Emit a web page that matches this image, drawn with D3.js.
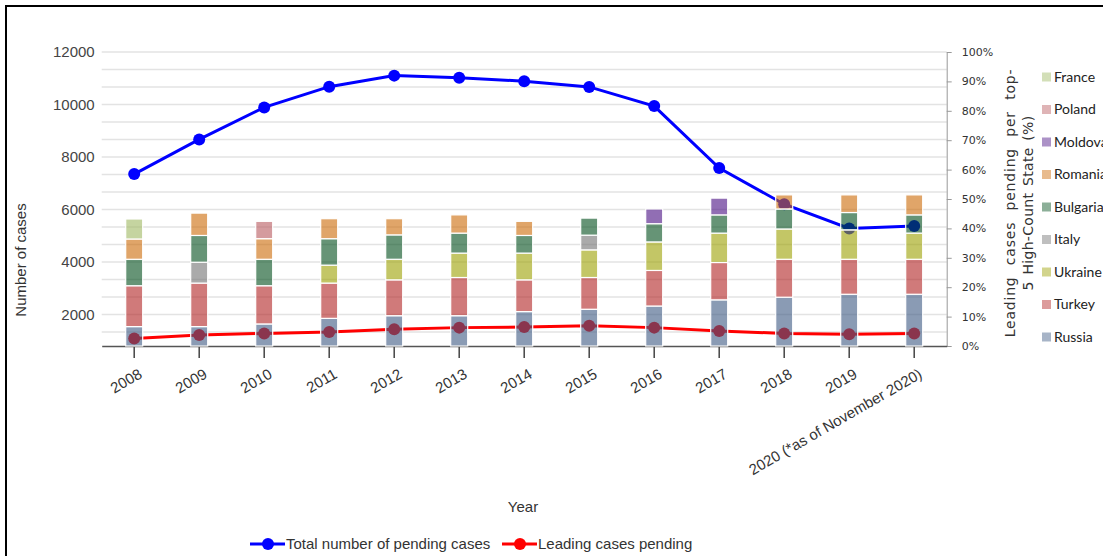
<!DOCTYPE html>
<html>
<head>
<meta charset="utf-8">
<script src="https://cdn.jsdelivr.net/npm/d3@7"></script>
<style>
  html, body { margin: 0; padding: 0; background: #fff; }
  svg { display: block; }
</style>
</head>
<body>
<div id="chart"></div>
<script>
// Years on the category axis
const years = ["2008", "2009", "2010", "2011", "2012", "2013", "2014", "2015", "2016", "2017", "2018", "2019", "2020"];
const yearLabels = ["2008", "2009", "2010", "2011", "2012", "2013", "2014", "2015", "2016", "2017", "2018", "2019", "2020 (*as of November 2020)"];

// Share of leading cases pending per top-5 high-count state (%), bottom to top of each stack
const russia   = [6.6, 6.6, 7.5, 9.4, 10.3, 10.3, 11.7, 12.5, 13.6, 15.7, 16.6, 17.6, 17.6];
const turkey   = [13.9, 14.8, 13.0, 12.0, 12.2, 13.0, 10.8, 10.8, 12.1, 12.7, 12.9, 11.9, 11.9];
const ukraine  = [0, 0, 0, 6.1, 7.0, 8.3, 9.1, 9.4, 9.7, 10.0, 10.3, 10.0, 8.9];
const italy    = [0, 7.1, 0, 0, 0, 0, 0, 5.0, 0, 0, 0, 0, 0];
const bulgaria = [9.0, 9.1, 9.0, 9.0, 8.3, 6.8, 6.0, 5.8, 6.2, 6.2, 6.8, 5.9, 6.2];
const romania  = [6.9, 7.6, 7.0, 6.8, 5.5, 6.2, 4.8, 0, 0, 0, 4.8, 6.0, 6.8];
const moldova  = [0, 0, 0, 0, 0, 0, 0, 0, 5.0, 5.7, 0, 0, 0];
const poland   = [0, 0, 5.9, 0, 0, 0, 0, 0, 0, 0, 0, 0, 0];
const france   = [6.8, 0, 0, 0, 0, 0, 0, 0, 0, 0, 0, 0, 0];

const countries = ["Russia", "Turkey", "Ukraine", "Italy", "Bulgaria", "Romania", "Moldova", "Poland", "France"];
const countrySeries = [russia, turkey, ukraine, italy, bulgaria, romania, moldova, poland, france];
const countryColors = ["#3c5882", "#b12121", "#9ba000", "#717171", "#004d1b", "#cb6905", "#480d82", "#b7585d", "#9eb761"];

// Totals on the left axis
const totalPending   = [7350, 8670, 9890, 10680, 11100, 11020, 10890, 10670, 9940, 7580, 6200, 5280, 5370];
const leadingPending = [1090, 1220, 1280, 1330, 1440, 1500, 1520, 1570, 1500, 1370, 1280, 1250, 1280];

const leftTicks = [2000, 4000, 6000, 8000, 10000, 12000];
const rightTicks = [0, 10, 20, 30, 40, 50, 60, 70, 80, 90, 100];

const W = 1103, H = 556;
const plot = { left: 101.7, right: 946.7, top: 52, bottom: 346 };

const svg = d3.select("#chart").append("svg").attr("width", W).attr("height", H);

// frame
svg.append("rect").attr("x", 6).attr("y", 6).attr("width", 1300).attr("height", 800)
  .attr("fill", "none").attr("stroke", "#000").attr("stroke-width", 2);

const x = d3.scaleBand().domain(years).range([plot.left, plot.right]).padding(0);
const yL = d3.scaleLinear().domain([800, 12000]).range([plot.bottom, plot.top]);
const yR = d3.scaleLinear().domain([0, 100]).range([plot.bottom, plot.top]);
const cx = d => x(d) + x.bandwidth() / 2;

// gridlines every third of 2000
const gridVals = d3.range(12000, 800, -2000 / 3);
svg.append("g").selectAll("line").data(gridVals).join("line")
  .attr("x1", plot.left).attr("x2", plot.right)
  .attr("y1", d => yL(d)).attr("y2", d => yL(d))
  .attr("stroke", "#e3e3e3").attr("stroke-width", 1.5);

// left axis (labels only)
const gL = svg.append("g").attr("transform", `translate(${plot.left - 7},0)`)
  .call(d3.axisLeft(yL).tickValues(leftTicks).tickSize(0).tickPadding(0).tickFormat(d3.format("d")));
gL.select(".domain").remove();
gL.selectAll("text").attr("font-family", "Liberation Sans, Arial, sans-serif").attr("font-size", 15).attr("fill", "#444");

// right axis
const gR = svg.append("g").attr("transform", `translate(${plot.right},0)`)
  .call(d3.axisRight(yR).tickValues(rightTicks).tickSize(5).tickSizeOuter(0).tickPadding(10).tickFormat(d => d + "%"));
gR.select(".domain").attr("stroke", "#999").attr("stroke-width", 1);
gR.selectAll(".tick line").attr("stroke", "#999");
gR.selectAll("text").attr("font-family", "DejaVu Sans, Verdana, sans-serif").attr("font-size", 11).attr("fill", "#333");

// x axis
const gX = svg.append("g").attr("transform", `translate(0,${plot.bottom})`)
  .call(d3.axisBottom(x).tickSize(12).tickSizeOuter(0).tickFormat((d, i) => yearLabels[i]));
gX.select(".domain").attr("stroke", "#555").attr("stroke-width", 1.5);
gX.selectAll(".tick line").attr("stroke", "#444").attr("stroke-width", 1.5);
gX.selectAll("text")
  .attr("font-family", "Liberation Sans, Arial, sans-serif").attr("font-size", 15).attr("fill", "#333")
  .attr("text-anchor", "end").attr("dy", 0).attr("y", 0)
  .attr("transform", "translate(9,31) rotate(-30)");

// axis titles
svg.append("text").attr("transform", "translate(26,260) rotate(-90)")
  .attr("text-anchor", "middle").attr("font-family", "Liberation Sans, Arial, sans-serif")
  .attr("font-size", 15).attr("fill", "#333").text("Number of cases");
svg.append("text").attr("x", 523).attr("y", 512).attr("text-anchor", "middle")
  .attr("font-family", "Liberation Sans, Arial, sans-serif").attr("font-size", 15).attr("fill", "#333").text("Year");
const rt = svg.append("text").attr("transform", "translate(1015,203) rotate(-90)")
  .attr("text-anchor", "middle").attr("font-family", "DejaVu Sans, Verdana, sans-serif")
  .attr("font-size", 14).attr("fill", "#333");
rt.append("tspan").attr("x", 0).attr("y", 0)
  .attr("letter-spacing", 0.8).attr("word-spacing", 6).text("Leading cases pending per top-");
rt.append("tspan").attr("x", 0).attr("y", 18)
  .attr("letter-spacing", 0.3).attr("word-spacing", 2).text("5 High-Count State (%)");

// lines (drawn beneath the translucent bars)
const lineGen = yScale => d3.line().x((d, i) => cx(years[i])).y(d => yScale(d));
function drawLine(vals, color) {
  svg.append("path").datum(vals).attr("d", lineGen(yL))
    .attr("fill", "none").attr("stroke", color).attr("stroke-width", 3);
  svg.append("g").selectAll("circle").data(vals).join("circle")
    .attr("cx", (d, i) => cx(years[i])).attr("cy", d => yL(d)).attr("r", 6).attr("fill", color);
}
drawLine(totalPending, "#0000ff");
drawLine(leadingPending, "#ff0000");

// stacked bars
const table = years.map((y, i) => {
  const row = { year: y };
  countries.forEach((c, k) => row[c] = countrySeries[k][i]);
  return row;
});
const stacked = d3.stack().keys(countries)(table);
const barW = 17;
svg.append("g").selectAll("g").data(stacked).join("g")
  .attr("fill", (d, k) => countryColors[k])
  .selectAll("rect").data(d => d.filter(s => s[1] - s[0] > 0)).join("rect")
  .attr("x", d => cx(d.data.year) - barW / 2)
  .attr("width", barW)
  .attr("y", d => yR(d[1]))
  .attr("height", d => yR(d[0]) - yR(d[1]))
  .attr("fill-opacity", 0.6)
  .attr("stroke", "#fff").attr("stroke-width", 1.2);

// legend for countries (top to bottom)
const legendOrder = countries.slice().reverse();
const lg = svg.append("g").attr("transform", "translate(1042,77)");
legendOrder.forEach((c, i) => {
  const k = countries.indexOf(c);
  const row = lg.append("g").attr("transform", `translate(0,${i * 32.5})`);
  row.append("rect").attr("x", 0).attr("y", -4.5).attr("width", 9).attr("height", 9)
    .attr("fill", countryColors[k]).attr("fill-opacity", 0.45);
  row.append("text").attr("x", 12).attr("y", 0).attr("dy", "0.35em")
    .attr("font-family", "Lato, sans-serif").attr("font-size", 14).attr("fill", "#222").text(c);
});

// legend for the lines
const lineLegend = [
  { label: "Total number of pending cases", color: "#0000ff", x0: 250 },
  { label: "Leading cases pending", color: "#ff0000", x0: 502 }
];
lineLegend.forEach(l => {
  const g = svg.append("g").attr("transform", `translate(${l.x0},544)`);
  g.append("line").attr("x1", 0).attr("x2", 35).attr("y1", 0).attr("y2", 0)
    .attr("stroke", l.color).attr("stroke-width", 3);
  g.append("circle").attr("cx", 18).attr("cy", 0).attr("r", 6).attr("fill", l.color);
  g.append("text").attr("x", 36).attr("y", 0).attr("dy", "0.35em")
    .attr("font-family", "Liberation Sans, Arial, sans-serif").attr("font-size", 15).attr("fill", "#333").text(l.label);
});
</script>
</body>
</html>
